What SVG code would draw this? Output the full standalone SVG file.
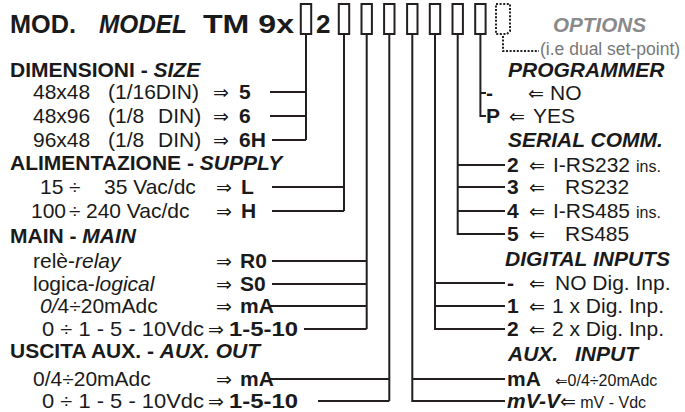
<svg xmlns="http://www.w3.org/2000/svg" width="685" height="412" viewBox="0 0 685 412" xml:space="preserve">
<style>
text{font-family:"Liberation Sans",Arial,"DejaVu Sans",sans-serif;fill:#1a1a1a;font-size:21px}
.b{font-weight:bold}
.i{font-style:italic}
.t{font-size:26px;font-weight:bold}
.ar{font-family:"DejaVu Sans",sans-serif;font-size:19px}
.sm{font-size:16px}
.gr{fill:#8a8a8a}
.ln{stroke:#231f20;stroke-width:2;fill:none}
.box{fill:#fff;stroke:#231f20;stroke-width:2}
.dot{fill:none;stroke:#231f20;stroke-width:2;stroke-dasharray:2 1.6}
</style>
<g id="title">
<text class="t" x="10" y="33" textLength="66" lengthAdjust="spacingAndGlyphs">MOD.</text>
<text class="t i" x="99" y="33" textLength="88" lengthAdjust="spacingAndGlyphs">MODEL</text>
<text class="t" x="203" y="33" textLength="91" lengthAdjust="spacingAndGlyphs">TM 9x</text>
<text class="t" x="316" y="33">2</text>
</g>
<g id="boxes">
<rect id="box-size" class="box" x="300.8" y="4" width="10.4" height="30"/>
<rect id="box-supply" class="box" x="338.8" y="4" width="10.4" height="30"/>
<rect id="box-main" class="box" x="361.5" y="4" width="10.4" height="30"/>
<rect id="box-auxout" class="box" x="384.1" y="4" width="10.4" height="30"/>
<rect id="box-auxin" class="box" x="407.1" y="4" width="10.4" height="30"/>
<rect id="box-digital" class="box" x="429.8" y="4" width="10.4" height="30"/>
<rect id="box-serial" class="box" x="452.5" y="4" width="10.4" height="30"/>
<rect id="box-prog" class="box" x="475.2" y="4" width="10.4" height="30"/>
<path id="box-options" class="dot" d="M496,4 H510 V31 L507,34 H496 Z"/>
</g>
<g id="connectors">
<path class="ln" d="M306,34 V140 M270,92 H306 M270,116 H306 M272,140 H306"/>
<path class="ln" d="M344,34 V211 M272,187 H344 M272,211 H344"/>
<path class="ln" d="M366.7,34 V329 M272,261 H366.7 M272,284 H366.7 M270,306 H366.7 M304,329 H366.7"/>
<path class="ln" d="M389.3,34 V401 M270,379 H389.3 M318,401 H389.3"/>
<path class="ln" d="M412.3,34 V401 H505 M412.3,379 H505"/>
<path class="ln" d="M435,34 V329 H505 M435,283 H505 M435,306 H505"/>
<path class="ln" d="M457.7,34 V234 H505 M457.7,165 H505 M457.7,187 H505 M457.7,211 H505"/>
<path class="ln" d="M480.4,34 V116 H486 M480.4,93 H486"/>
<path class="dot" d="M503,36 V51 H539"/>
</g>
<g id="options">
<text class="b i gr" x="553" y="32" style="font-size:20px" textLength="93" lengthAdjust="spacingAndGlyphs">OPTIONS</text>
<text class="gr" x="540" y="55" style="font-size:17.5px;fill:#777">(i.e dual set-point)</text>
</g>
<g id="size">
<text class="b" x="10" y="77">DIMENSIONI - <tspan class="i">SIZE</tspan></text>
<text x="33" y="99">48x48<tspan x="108">(1/16DIN)</tspan><tspan class="ar" x="213">⇒</tspan><tspan class="b" x="239">5</tspan></text>
<text x="33" y="123">48x96<tspan x="108">(1/8</tspan><tspan x="158">DIN)</tspan><tspan class="ar" x="213">⇒</tspan><tspan class="b" x="239">6</tspan></text>
<text x="33" y="147">96x48<tspan x="108">(1/8</tspan><tspan x="158">DIN)</tspan><tspan class="ar" x="213">⇒</tspan><tspan class="b" x="239">6H</tspan></text>
</g>
<g id="supply">
<text class="b" x="10" y="170">ALIMENTAZIONE - <tspan class="i">SUPPLY</tspan></text>
<text x="40" y="194">15<tspan x="69">÷</tspan><tspan x="104">35 Vac/dc</tspan><tspan class="ar" x="216">⇒</tspan><tspan class="b" x="241">L</tspan></text>
<text x="31" y="218">100<tspan x="69">÷</tspan><tspan x="86">240 Vac/dc</tspan><tspan class="ar" x="216">⇒</tspan><tspan class="b" x="241">H</tspan></text>
</g>
<g id="main">
<text class="b" x="10" y="243">MAIN - <tspan class="i">MAIN</tspan></text>
<text x="33" y="268">relè-<tspan class="i">relay</tspan><tspan class="ar" x="216">⇒</tspan><tspan class="b" x="240">R0</tspan></text>
<text x="33" y="291">logica-<tspan class="i">logical</tspan><tspan class="ar" x="216">⇒</tspan><tspan class="b" x="240">S0</tspan></text>
<text x="40" y="313"><tspan class="i">0/</tspan>4÷20mAdc<tspan class="ar" x="216">⇒</tspan><tspan class="b" x="240">mA</tspan></text>
<text x="42" y="336"><tspan textLength="162" lengthAdjust="spacingAndGlyphs">0 ÷  1 - 5 - 10Vdc</tspan><tspan class="ar" x="208">⇒</tspan><tspan class="b" x="229" textLength="69" lengthAdjust="spacingAndGlyphs">1-5-10</tspan></text>
</g>
<g id="auxout">
<text class="b" x="10" y="358">USCITA AUX. - <tspan class="i">AUX. OUT</tspan></text>
<text x="33" y="386">0/4÷20mAdc<tspan class="ar" x="216">⇒</tspan><tspan class="b" x="240">mA</tspan></text>
<text x="42" y="408"><tspan textLength="162" lengthAdjust="spacingAndGlyphs">0 ÷  1 - 5 - 10Vdc</tspan><tspan class="ar" x="208">⇒</tspan><tspan class="b" x="229" textLength="69" lengthAdjust="spacingAndGlyphs">1-5-10</tspan></text>
</g>
<g id="programmer">
<text class="b i" x="508" y="77">PROGRAMMER</text>
<text x="486" y="100"><tspan class="b">-</tspan><tspan class="ar" x="528">⇐</tspan><tspan x="550">NO</tspan></text>
<text x="486" y="123"><tspan class="b">P</tspan><tspan class="ar" x="509">⇐</tspan><tspan x="533">YES</tspan></text>
</g>
<g id="serial">
<text class="b i" x="508" y="147">SERIAL COMM.</text>
<text x="507" y="172"><tspan class="b">2</tspan><tspan class="ar" x="529">⇐</tspan><tspan x="553">I-RS232</tspan><tspan class="sm" x="636">ins.</tspan></text>
<text x="507" y="194"><tspan class="b">3</tspan><tspan class="ar" x="529">⇐</tspan><tspan x="565">RS232</tspan></text>
<text x="507" y="218"><tspan class="b">4</tspan><tspan class="ar" x="529">⇐</tspan><tspan x="553">I-RS485</tspan><tspan class="sm" x="636">ins.</tspan></text>
<text x="507" y="241"><tspan class="b">5</tspan><tspan class="ar" x="529">⇐</tspan><tspan x="565">RS485</tspan></text>
</g>
<g id="digital">
<text class="b i" x="505" y="266">DIGITAL INPUTS</text>
<text x="507" y="290"><tspan class="b">-</tspan><tspan class="ar" x="529">⇐</tspan><tspan x="555">NO Dig. Inp.</tspan></text>
<text x="507" y="313"><tspan class="b">1</tspan><tspan class="ar" x="529">⇐</tspan><tspan x="552">1 x Dig. Inp.</tspan></text>
<text x="507" y="336"><tspan class="b">2</tspan><tspan class="ar" x="529">⇐</tspan><tspan x="552">2 x Dig. Inp.</tspan></text>
</g>
<g id="auxin">
<text class="b i" x="508" y="361">AUX.<tspan x="575">INPUT</tspan></text>
<text x="507" y="386"><tspan class="b">mA</tspan><tspan class="ar" x="555" style="font-size:15px">⇐</tspan><tspan class="sm">0/4÷20mAdc</tspan></text>
<text x="507" y="408"><tspan class="b i">mV-V</tspan><tspan class="ar">⇐</tspan><tspan class="sm"> mV - Vdc</tspan></text>
</g>
</svg>
